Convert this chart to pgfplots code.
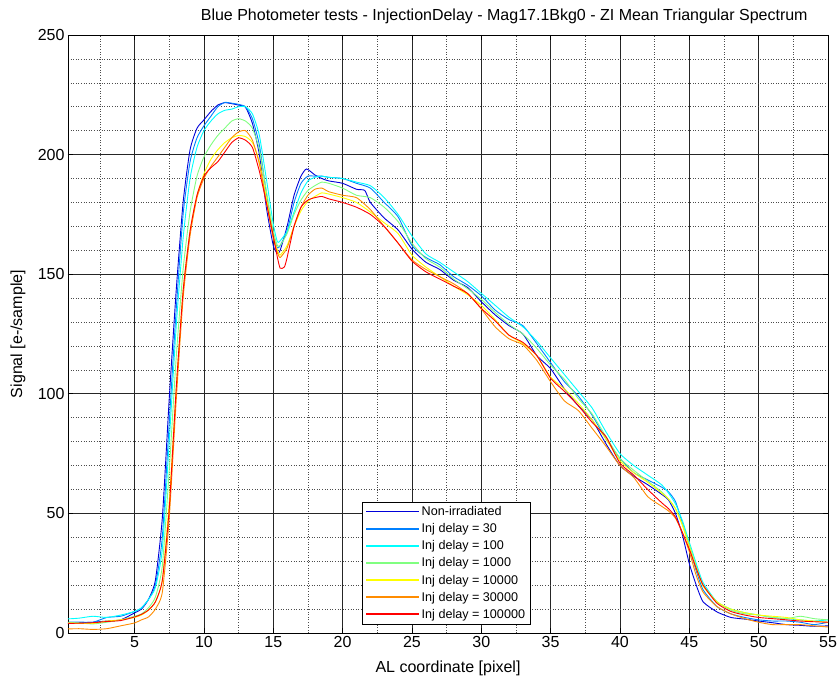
\documentclass[border=0pt]{standalone}
\usepackage{fontspec}
\setmainfont{Liberation Sans}
\usepackage{pgfplots}
\pgfplotsset{compat=1.18}

% jet-style line colours
\definecolor{c1}{rgb}{0.0,0.0,0.85}
\definecolor{c2}{rgb}{0.0,0.5,1.0}
\definecolor{c3}{rgb}{0.0,1.0,1.0}
\definecolor{c4}{rgb}{0.5,1.0,0.5}
\definecolor{c5}{rgb}{1.0,1.0,0.0}
\definecolor{c6}{rgb}{1.0,0.55,0.0}
\definecolor{c7}{rgb}{1.0,0.0,0.0}

\begin{document}
\begin{tikzpicture}
\path[use as bounding box] (-68bp,-49bp) rectangle (770bp,633bp);
\begin{axis}[
  at={(0,0)}, anchor=south west,
  scale only axis, width=760bp, height=598bp,
  xmin=0.2, xmax=55, ymin=0, ymax=250,
  xtick={5,10,...,55}, ytick={0,50,...,250},
  minor xtick={2.5,7.5,...,52.5},
  minor ytick={10,20,...,240},
  grid=both,
  major grid style={black!85, line width=0.6bp},
  minor grid style={black!70, line width=0.6bp, dotted},
  tick align=inside, major tick length=5bp, minor tick length=0bp,
  tick style={black, line width=0.6bp},
  axis line style={black, line width=0.6bp},
  /pgf/number format/assume math mode=true,
  font=\fontsize{16bp}{19bp}\selectfont,
  ticklabel style={font=\fontsize{16bp}{19bp}\selectfont},
  title={Blue Photometer tests - InjectionDelay - Mag17.1Bkg0 - ZI Mean Triangular Spectrum},
  title style={at={(rel axis cs:0.574,1)}, anchor=base, yshift=9bp},
  xlabel={AL coordinate [pixel]},
  xlabel style={at={(rel axis cs:0.5,-0.0585)}, anchor=center},
  ylabel={Signal [e-/sample]},
  ylabel style={at={(rel axis cs:-0.0658,0.5)}, anchor=center},
  legend cell align=left,
  legend style={at={(rel axis cs:0.387,0.219)}, anchor=north west,
    fill=white, line width=0.6bp,
    font=\fontsize{12.6bp}{15bp}\selectfont,
    row sep=2.4bp, inner xsep=3bp, inner ysep=2.5bp},
  every legend/.append style={draw=black},
  legend image code/.code={\draw[#1, line width=1.3bp] (0bp,0.3bp) -- (53bp,0.3bp);},
  every axis plot/.append style={line width=0.9bp, smooth, tension=0.35},
]
% Non-irradiated
\addplot[color=c1, draw=c1] coordinates {
(0.2,4.0)(1,4.3)(2,4.5)(3,5)(4,5.5)(5,8.4)(5.5,10)(6,14)(6.5,22)(7,48)(7.5,98)(8,143)(8.5,180)(9,202)(9.5,211)(10,214.5)(10.5,218)(11,220.7)(11.5,221.7)(12,221.3)(12.5,220.7)(13,219.8)(13.5,213)(14,200)(14.5,178)(15,162)(15.3,158.7)(15.5,160)(16,170)(16.5,183)(17,191)(17.4,194)(18,191.5)(18.5,190)(19,189)(20,188)(21,185.5)(21.6,185)(22,180)(23,173.5)(24,168.5)(25,160.5)(26,155)(27,152)(28,147.5)(29,144.5)(30,138.5)(31,133)(32,128.5)(33,125)(34,116)(35,110.5)(36,102)(37,95)(38,89)(39,79)(40,70)(41,65.5)(42,62)(43,58)(43.5,55.6)(44,50)(44.5,41)(45,29)(45.5,20)(46,13)(47,8.8)(48,6.5)(49,5.8)(50,5)(51,4.3)(52,3.5)(53,3.2)(54,2.8)(55,3)
};
\addlegendentry{Non-irradiated}
% Inj delay = 30
\addplot[color=c2, draw=c2] coordinates {
(0.2,4.5)(1,4.6)(2,4.5)(3,6.5)(4,7)(5,9)(5.5,10.5)(6,14)(6.5,20)(7,40)(7.5,88)(8,135)(8.5,175)(9,197)(9.5,207)(10,212)(10.5,216)(11,220)(11.5,221.8)(12,221.5)(12.5,221)(13,220)(13.5,215)(14,204)(14.5,184)(15,166)(15.3,161)(15.5,162)(16,168)(16.5,180)(17,188)(17.5,191)(18,191)(18.5,191)(19,190.5)(20,190)(21,188)(22,186)(23,180)(24,174)(25,162)(26,157)(27,154)(28,149)(29,145.5)(30,141)(31,135)(32,131)(33,128.5)(34,121)(35,113)(36,105)(37,99)(38,91)(39,81)(40,73)(41,67)(42,64)(43,61)(43.5,59)(44,55)(44.5,46)(45,36)(45.5,26)(46,18)(47,11)(48,8)(49,6.5)(50,5.5)(51,5)(52,5)(53,4.5)(54,3.5)(55,4.5)
};
\addlegendentry{Inj delay = 30}
% Inj delay = 100
\addplot[color=c3, draw=c3] coordinates {
(0.2,5.9)(1,6.2)(2,7)(3,6.5)(4,7.5)(5,9)(5.5,10.5)(6,14)(6.5,19)(7,35)(7.5,80)(8,128)(8.5,165)(9,190)(9.5,203)(10,210)(10.5,214)(11,217)(11.5,218.5)(12,219)(12.5,220)(13,220)(13.5,217)(14,208)(14.5,190)(15,171)(15.3,163.5)(15.5,164)(16,168)(16.5,176)(17,184)(17.5,189)(18,190.5)(18.5,191)(19,190.5)(20,190)(21,188.5)(22,187)(23,182)(24,175)(25,166)(26,158.5)(27,155)(28,151)(29,147)(30,142)(31,137)(32,132)(33,128)(34,122)(35,115)(36,108)(37,101)(38,94)(39,84)(40,75)(41,70)(42,66)(43,62)(43.5,58.5)(44,54)(44.5,47)(45,38)(45.5,29)(46,21)(47,13)(48,10)(49,8.5)(50,7.5)(51,6.5)(52,6)(53,5.5)(54,5)(55,5.5)
};
\addlegendentry{Inj delay = 100}
% Inj delay = 1000
\addplot[color=c4, draw=c4] coordinates {
(0.2,4.5)(1,4.2)(2,3.8)(3,4.5)(4,5.5)(5,7)(5.5,8)(6,10.5)(6.5,15)(7,28)(7.5,68)(8,115)(8.5,152)(9,176)(9.5,191)(10,199)(10.5,204)(11,208)(11.5,211)(12,214)(12.5,215)(13,214)(13.5,211)(14,202)(14.5,185)(15,168)(15.3,162)(15.5,162)(16,167)(16.5,175)(17,181)(17.5,185)(18,187)(18.5,188.5)(19,188)(20,186)(21,183)(22,182)(23,178)(24,172)(25,163)(26,156.5)(27,153)(28,148)(29,144)(30,139.5)(31,134)(32,129)(33,125)(34,119)(35,112)(36,106)(37,98)(38,91.5)(39,82)(40,73)(41,68)(42,63.5)(43,59)(43.5,56)(44,52)(44.5,45.5)(45,37)(45.5,28)(46,20)(47,13)(48,9.5)(49,8)(50,7.5)(51,6.5)(52,6)(53,7)(54,6)(55,5.5)
};
\addlegendentry{Inj delay = 1000}
% Inj delay = 10000
\addplot[color=c5, draw=c5] coordinates {
(0.2,4.2)(1,4)(2,4)(3,5)(4,5.5)(5,6.5)(5.5,7.5)(6,9.5)(6.5,13)(7,22)(7.5,55)(8,102)(8.5,143)(9,168)(9.5,183)(10,192)(10.5,198)(11,202)(11.5,205)(12,207)(12.5,208)(13,207.5)(13.5,205)(14,197)(14.5,182)(15,166)(15.3,160)(15.5,158)(16,162)(16.5,170)(17,176.5)(17.5,180.5)(18,182.5)(18.5,184)(19,183.5)(20,182)(21,180)(22,176)(23,171.5)(24,167)(25,158)(26,153)(27,149)(28,145)(29,141.5)(30,137)(31,131)(32,124.5)(33,121)(34,116)(35,107)(36,102)(37,96)(38,89)(39,81)(40,72)(41,67)(42,63)(43,58.5)(43.5,56)(44,52)(44.5,45)(45,36)(45.5,27)(46,19.5)(47,13)(48,10)(49,8.5)(50,7.5)(51,7)(52,6.5)(53,5.5)(54,5)(55,4.5)
};
\addlegendentry{Inj delay = 10000}
% Inj delay = 30000
\addplot[color=c6, draw=c6] coordinates {
(0.2,1.7)(1,1.8)(2,1.5)(3,1.8)(4,3)(5,4.2)(5.5,5.5)(6,6.7)(6.5,10)(7,17)(7.5,48)(8,97)(8.5,140)(9,166)(9.5,182)(10,190)(10.5,195)(11,199)(11.5,203)(12,207)(12.5,209.5)(13,210)(13.5,206)(14,196)(14.5,180)(15,165)(15.3,159)(15.5,157)(16,161)(16.5,170)(17,178)(17.5,183)(18,185.5)(18.5,186)(19,184.5)(20,183)(21,182)(22,177)(23,170)(24,163)(25,156)(26,152)(27,149)(28,146)(29,142)(30,135.5)(31,128)(32,123)(33,120.5)(34,114)(35,105)(36,97)(37,93)(38,85.5)(39,78)(40,70)(41,65)(42,57)(43,53)(43.5,51)(44,48)(44.5,42)(45,34)(45.5,24)(46,17)(47,11)(48,8)(49,6)(50,4.5)(51,3.5)(52,3.5)(53,3.5)(54,3)(55,2.5)
};
\addlegendentry{Inj delay = 30000}
% Inj delay = 100000
\addplot[color=c7, draw=c7] coordinates {
(0.2,4.0)(1,4.1)(2,4.3)(3,4.8)(4,5.2)(5,6.7)(5.5,7.8)(6,9.6)(6.5,13)(7,22)(7.5,52)(8,102)(8.5,143)(9,168)(9.5,183)(10,191)(10.5,194.5)(11,197)(11.5,201)(12,205)(12.5,207)(13,206)(13.5,203)(14,193)(14.5,180)(15,166)(15.3,157)(15.5,152.5)(15.8,153)(16,157)(16.5,170)(17,178)(17.5,181)(18,182)(18.5,182.5)(19,181.5)(20,180)(21,178)(22,175)(23,170)(24,163)(25,155.5)(26,151)(27,148)(28,145)(29,142)(30,135.7)(31,130.5)(32,124.5)(33,121.5)(34,116)(35,106.5)(36,101)(37,95)(38,88)(39,82)(40,71)(41,66)(42,60)(43,54.5)(43.5,52)(44,48.5)(44.5,42)(45,35)(45.5,27)(46,20)(47,12.4)(48,9)(49,7.5)(50,6.5)(51,6)(52,5.5)(53,5)(54,4.7)(55,4.5)
};
\addlegendentry{Inj delay = 100000}
\end{axis}
\end{tikzpicture}
\end{document}
